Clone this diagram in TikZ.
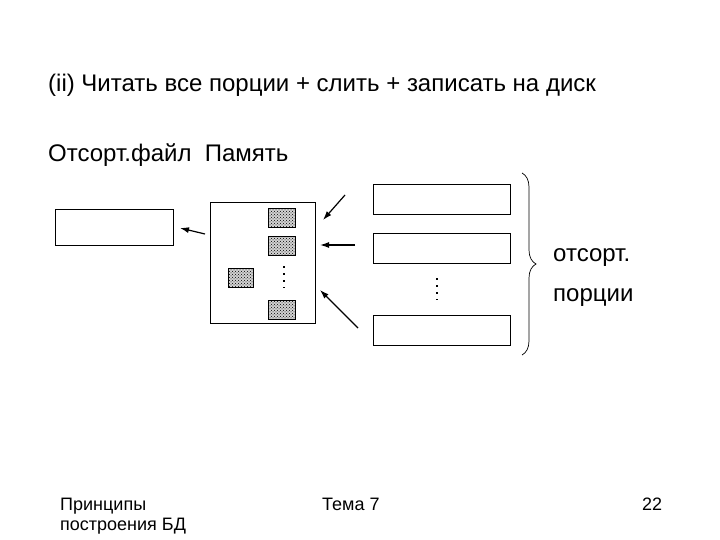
\documentclass[tikz,border=0pt]{standalone}
\usepackage{fontspec}
\setmainfont{Liberation Sans}
\usetikzlibrary{patterns,decorations.pathreplacing,arrows.meta}
\begin{document}
\begin{tikzpicture}[x=1pt,y=-1pt,
 box/.style={draw,line width=1pt},
 blk/.style={draw,line width=1pt,fill=gray!35,postaction={pattern=crosshatch dots}},
 arr/.style={-{Latex[length=9pt,width=6pt]},line width=1.2pt},
 dotcol/.style={line width=2pt,dash pattern=on 2pt off 5pt},
 txt/.style={inner sep=0pt,anchor=west,font=\fontsize{24}{27}\selectfont},
 ft/.style={inner sep=0pt,anchor=north west,font=\fontsize{18}{20}\selectfont,align=left}]
\useasboundingbox (0,0) rectangle (720,540);
\node[txt] (t) at (48,85) {(ii) Читать все порции + слить + записать на диск};
\node[txt] (a) at (48,155) {Отсорт.файл\ \ Память};
\node[box,minimum width=118pt,minimum height=35pt,inner sep=0] (f) at (114,227.5) {};
\node[box,minimum width=105pt,minimum height=120pt,inner sep=0] (m) at (262.5,263) {};
\node[blk,minimum width=27pt,minimum height=19pt,inner sep=0] (s1) at (281.5,218.5) {};
\node[blk,minimum width=27pt,minimum height=19pt,inner sep=0] (s2) at (281.5,245.5) {};
\node[blk,minimum width=27pt,minimum height=19pt,inner sep=0] (s3) at (281.5,309.5) {};
\node[blk,minimum width=25pt,minimum height=19pt,inner sep=0] (s4) at (240.5,277.5) {};
\coordinate (d1a) at (284,266); \coordinate (d1b) at (284,288);
\draw[dotcol] (d1a) -- (d1b);
\node[box,minimum width=137pt,minimum height=30pt,inner sep=0] (p1) at (441.5,200) {};
\node[box,minimum width=137pt,minimum height=30pt,inner sep=0] (p2) at (441.5,248) {};
\node[box,minimum width=137pt,minimum height=30pt,inner sep=0] (p3) at (441.5,330) {};
\coordinate (d2a) at (437,278); \coordinate (d2b) at (437,300);
\draw[dotcol] (d2a) -- (d2b);
\coordinate (c1) at (345,195); \coordinate (e1) at (323,220);
\coordinate (c2) at (355,245); \coordinate (e2) at (320,245);
\coordinate (c3) at (358,328); \coordinate (e3) at (320,290);
\coordinate (c4) at (205,234); \coordinate (e4) at (180,228);
\draw[arr] (c1) -- (e1);
\draw[arr] (c2) -- (e2);
\draw[arr] (c3) -- (e3);
\draw[arr] (c4) -- (e4);
\draw[decorate,decoration={brace,amplitude=14pt},line width=0.7pt] (522,173) -- (522,355);
\node[txt] (o1) at (553,258) {отсорт.};
\node[txt] (o2) at (553,298) {порции};
\node[ft] (f1) at (60,498) {Принципы\\построения БД};
\node[ft] (f2) at (322,498) {Тема 7};
\node[ft] (f3) at (642,498) {22};
\end{tikzpicture}
\end{document}
